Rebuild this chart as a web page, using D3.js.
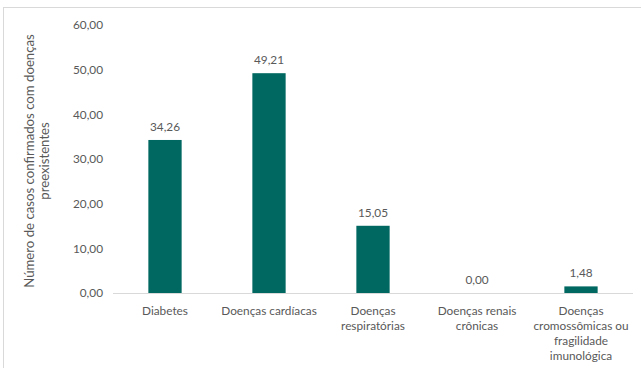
<!DOCTYPE html>
<html><head><meta charset="utf-8">
<script src="https://cdn.jsdelivr.net/npm/d3@7"></script>
<style>body{margin:0;background:#fff}svg{display:block}text{font-family:Lato,"Open Sans",sans-serif;fill:#595959}</style>
</head><body><svg id="c" width="641" height="368"></svg>
<script>
const categories = ["Diabetes","Doenças cardíacas","Doenças respiratórias","Doenças renais crônicas","Doenças cromossômicas ou fragilidade imunológica"];
const labelLines = [["Diabetes"],["Doenças cardíacas"],["Doenças","respiratórias"],["Doenças renais","crônicas"],["Doenças","cromossômicas ou","fragilidade","imunológica"]];
const values = [34.26,49.21,15.05,0.00,1.48];
const yTicks = [0,10,20,30,40,50,60];
const yTitle = ["Número de casos confirmados com doenças","preexistentes"];

const svg = d3.select("#c");
const fmt = v => d3.format(".2f")(v).replace(".", ",");
svg.append("rect").attr("x",3.5).attr("y",7.5).attr("width",640).attr("height",370).attr("fill","none").attr("stroke","#d9d9d9");

const x = d3.scaleBand().domain(categories).range([113,633]).paddingInner(0.68).paddingOuter(0.34);
const y = d3.scaleLinear().domain([0,60]).range([293,25]);

const ya = svg.append("g").attr("transform","translate(113,0)").call(d3.axisLeft(y).tickValues(yTicks).tickFormat(fmt).tickSize(0).tickPadding(10));
ya.select(".domain").remove();
ya.selectAll("text").attr("font-size",11.8).style("font-family","Lato").attr("fill","#595959");

svg.append("line").attr("x1",113).attr("x2",633).attr("y1",y(0)+0.5).attr("y2",y(0)+0.5).attr("stroke","#d9d9d9");

svg.selectAll("rect.bar").data(values).join("rect").attr("class","bar")
 .attr("x",(d,i)=>x(categories[i])).attr("width",x.bandwidth())
 .attr("y",d=>y(d)).attr("height",d=>y(0)-y(d)).attr("fill","#006861");

svg.selectAll("text.val").data(values).join("text").attr("class","val")
 .attr("x",(d,i)=>x(categories[i])+x.bandwidth()/2).attr("y",d=>y(d)-9)
 .attr("text-anchor","middle").attr("font-size",11.8).text(fmt);

const xl = svg.selectAll("g.xl").data(labelLines).join("g").attr("class","xl")
 .attr("transform",(d,i)=>`translate(${x(categories[i])+x.bandwidth()/2},315)`);
xl.selectAll("text").data(d=>d).join("text").attr("text-anchor","middle").attr("font-size",11.8)
 .attr("y",(d,i)=>i*15).text(d=>d);

const yt = svg.append("text").attr("transform","translate(34,161) rotate(-90)").attr("text-anchor","middle").attr("font-size",13.2);
yTitle.forEach((t,i)=>yt.append("tspan").attr("x",0).attr("dy",i?15:0).text(t));
</script></body></html>
